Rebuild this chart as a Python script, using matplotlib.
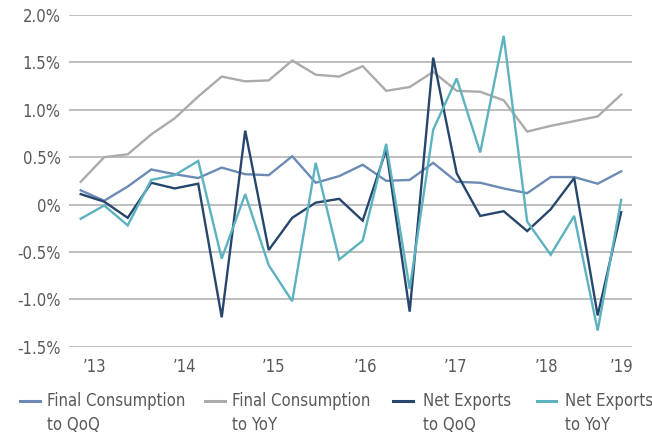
import matplotlib
matplotlib.use("Agg")
import matplotlib.pyplot as plt
from matplotlib.lines import Line2D
from matplotlib.ticker import FuncFormatter

plt.rcParams['font.family'] = ['DejaVu Sans']
plt.rcParams['font.stretch'] = 'condensed'

# quarterly data, 2013 Q1 .. 2018 Q4 (percent)
fc_qoq = [0.15, 0.04, 0.19, 0.37, 0.32, 0.28, 0.39, 0.32, 0.31, 0.51, 0.23, 0.30,
          0.42, 0.25, 0.26, 0.44, 0.24, 0.23, 0.17, 0.12, 0.29, 0.29, 0.22, 0.35]
fc_yoy = [0.24, 0.50, 0.53, 0.74, 0.91, 1.14, 1.35, 1.30, 1.31, 1.52, 1.37, 1.35,
          1.46, 1.20, 1.24, 1.40, 1.20, 1.19, 1.10, 0.77, 0.83, 0.88, 0.93, 1.16]
ne_qoq = [0.11, 0.03, -0.14, 0.23, 0.17, 0.22, -1.19, 0.78, -0.48, -0.14, 0.02, 0.06,
          -0.17, 0.58, -1.13, 1.55, 0.33, -0.12, -0.07, -0.28, -0.05, 0.28, -1.17, -0.08]
ne_yoy = [-0.15, -0.01, -0.22, 0.26, 0.31, 0.46, -0.57, 0.11, -0.64, -1.02, 0.44, -0.58,
          -0.38, 0.64, -0.89, 0.79, 1.33, 0.55, 1.78, -0.18, -0.53, -0.12, -1.33, 0.05]
quarters = list(range(len(fc_qoq)))

year_labels = ["\u201913", "\u201914", "\u201915", "\u201916", "\u201917", "\u201918", "\u201919"]
year_pos = [0.57, 4.4, 8.22, 12.1, 15.97, 19.84, 23.0]

series = [
    ("Final Consumption\nto QoQ", fc_qoq, "#6b8bb4"),
    ("Final Consumption\nto YoY", fc_yoy, "#ababab"),
    ("Net Exports\nto QoQ", ne_qoq, "#27466b"),
    ("Net Exports\nto YoY", ne_yoy, "#5db2bf"),
]

text_col = "#595959"
W, H = 652, 436

fig = plt.figure(figsize=(6.52, 4.36), dpi=100)
ax = fig.add_axes([0.1058, 0.2048, 0.8635, 0.7608])

for label, vals, col in series:
    ax.plot(quarters, vals, color=col, lw=1.7, label=label, solid_joinstyle='miter')

ax.set_xlim(-0.5, 23.46)
ax.set_ylim(-1.5, 2.0)
ax.set_yticks([-1.5, -1.0, -0.5, 0, 0.5, 1.0, 1.5, 2.0])
ax.yaxis.set_major_formatter(FuncFormatter(lambda v, p: "0%" if abs(v) < 1e-9 else f"{v:.1f}%"))
ax.set_xticks(year_pos)
ax.set_xticklabels(year_labels)

ax.grid(axis='y', color="#b3b3b3", lw=1.2)
ax.set_axisbelow(True)
for s in ax.spines.values():
    s.set_visible(False)
ax.tick_params(length=0, labelsize=12, colors=text_col)
ax.tick_params(axis='y', pad=6)
ax.tick_params(axis='x', pad=8)

# legend drawn by hand: handle start, handle end, text start (pixels)
leg_x = [(20, 40, 47), (205, 225, 232), (393, 413, 423), (537, 556, 565)]
for (label, vals, col), (h0, h1, tx) in zip(series, leg_x):
    fig.add_artist(Line2D([h0 / W, h1 / W], [1 - 401 / H, 1 - 401 / H],
                          color=col, lw=2.2, transform=fig.transFigure))
    fig.text(tx / W, 1 - 413 / H, label, ha='left', va='center', fontsize=12,
             color=text_col, linespacing=1.45)

fig.savefig("out.png", dpi=100)
